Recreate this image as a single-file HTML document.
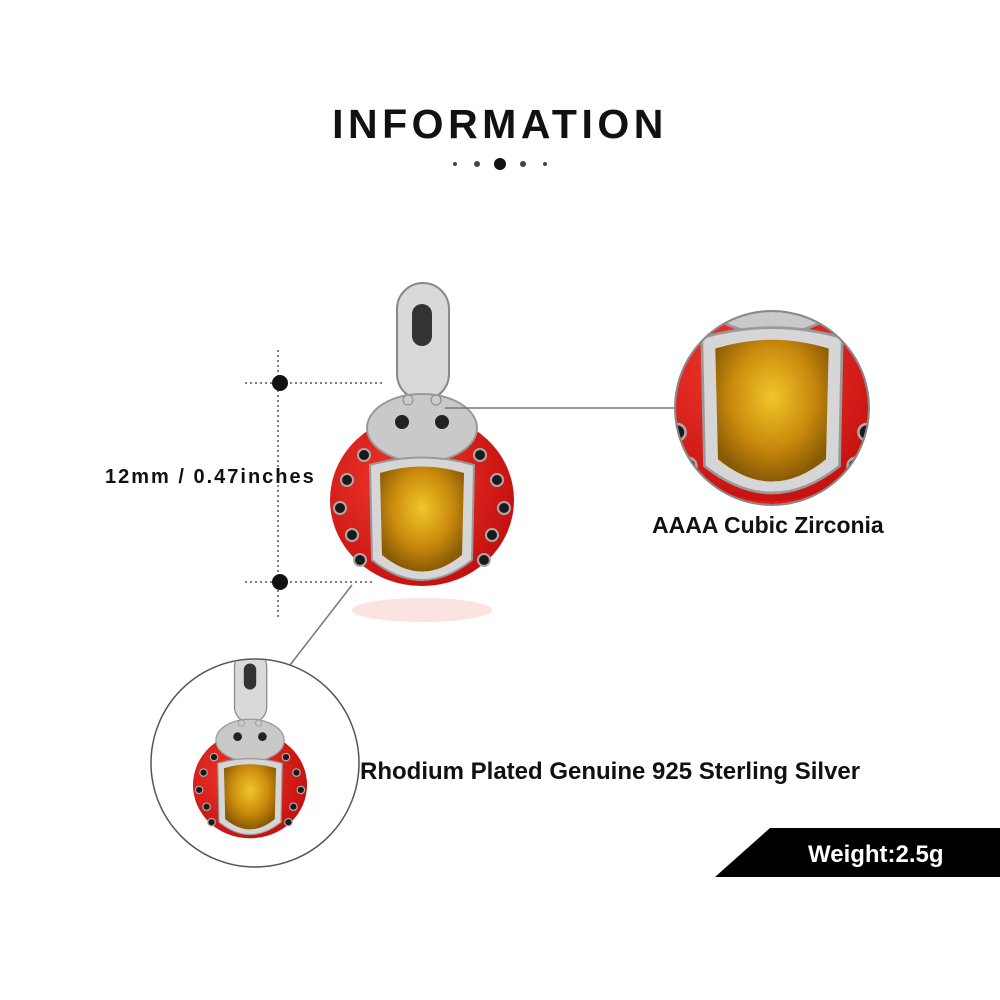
<!DOCTYPE html>
<html><head><meta charset="utf-8"><style>
html,body{margin:0;padding:0;background:#fff;}
body{width:1000px;height:1000px;position:relative;overflow:hidden;font-family:"Liberation Sans",Arial,sans-serif;}
.t{position:absolute;font-weight:bold;color:#111;white-space:nowrap;}
</style></head><body>
<svg width="1000" height="1000" style="position:absolute;left:0;top:0">
<defs>
<radialGradient id="gem" cx="50%" cy="40%" r="60%">
<stop offset="0" stop-color="#f2c62a"/><stop offset="0.6" stop-color="#c98a0c"/><stop offset="1" stop-color="#8a5a05"/></radialGradient>
<radialGradient id="red" cx="40%" cy="40%" r="70%">
<stop offset="0" stop-color="#f03a2e"/><stop offset="1" stop-color="#c20c0c"/></radialGradient>
<g id="bug">
<rect x="-25" y="-217" width="52" height="117" rx="26" fill="#d9d9d9" stroke="#888" stroke-width="2"/>
<rect x="-10" y="-196" width="20" height="42" rx="10" fill="#333"/>
<ellipse cx="0" cy="0" rx="92" ry="86" fill="url(#red)"/>
<ellipse cx="0" cy="-72" rx="55" ry="34" fill="#c9c9c9" stroke="#999" stroke-width="2"/>
<circle cx="-20" cy="-78" r="7" fill="#222"/><circle cx="20" cy="-78" r="7" fill="#222"/>
<circle cx="-14" cy="-100" r="5" fill="#ccc" stroke="#888"/><circle cx="14" cy="-100" r="5" fill="#ccc" stroke="#888"/>
<path d="M-52,-35 Q0,-50 52,-35 L50,60 Q0,100 -50,60 Z" fill="#d6d6d6" stroke="#999" stroke-width="2"/>
<path d="M-42,-27 Q0,-40 42,-27 L40,55 Q0,88 -40,55 Z" fill="url(#gem)"/>
<g fill="#1a1a1a" stroke="#aaa" stroke-width="2">
<circle cx="-75" cy="-20" r="6"/><circle cx="-82" cy="8" r="6"/><circle cx="-70" cy="35" r="6"/><circle cx="-58" cy="-45" r="6"/><circle cx="-62" cy="60" r="6"/>
<circle cx="75" cy="-20" r="6"/><circle cx="82" cy="8" r="6"/><circle cx="70" cy="35" r="6"/><circle cx="58" cy="-45" r="6"/><circle cx="62" cy="60" r="6"/>
</g>
</g>
<clipPath id="c1"><circle cx="772" cy="408" r="96"/></clipPath>
<clipPath id="c2"><circle cx="255" cy="763" r="103"/></clipPath>
</defs>
<circle cx="455" cy="164" r="2" fill="#444"/><circle cx="477" cy="164" r="3" fill="#444"/>
<circle cx="500" cy="164" r="6" fill="#111"/>
<circle cx="523" cy="164" r="3" fill="#444"/><circle cx="545" cy="164" r="2" fill="#444"/>
<line x1="278" y1="350" x2="278" y2="617" stroke="#555" stroke-width="1.5" stroke-dasharray="2,3"/>
<line x1="245" y1="383" x2="385" y2="383" stroke="#555" stroke-width="1.5" stroke-dasharray="2,3"/>
<line x1="245" y1="582" x2="372" y2="582" stroke="#555" stroke-width="1.5" stroke-dasharray="2,3"/>
<circle cx="280" cy="383" r="8" fill="#111"/><circle cx="280" cy="582" r="8" fill="#111"/>
<use href="#bug" transform="translate(422,500)"/>
<ellipse cx="422" cy="610" rx="70" ry="12" fill="#f7d0cc" opacity="0.6"/>
<line x1="445" y1="408" x2="676" y2="408" stroke="#777" stroke-width="1.5"/>
<line x1="290" y1="665" x2="352" y2="585" stroke="#777" stroke-width="1.5"/>
<g clip-path="url(#c1)"><rect x="670" y="300" width="210" height="210" fill="#e01a18"/>
<use href="#bug" transform="translate(772,385) scale(1.35)"/></g>
<circle cx="772" cy="408" r="97" fill="none" stroke="#888" stroke-width="2"/>
<g clip-path="url(#c2)"><rect x="150" y="658" width="210" height="210" fill="#fff"/>
<use href="#bug" transform="translate(250,785) scale(0.62)"/></g>
<circle cx="255" cy="763" r="104" fill="none" stroke="#555" stroke-width="1.5"/>
<polygon points="770,828 1000,828 1000,877 715,877" fill="#000"/>
</svg>
<div class="t" style="left:0;width:1000px;text-align:center;top:101px;font-size:41px;letter-spacing:4.5px;">INFORMATION</div>
<div class="t" style="left:105px;top:466px;font-size:20px;letter-spacing:2px;">12mm / 0.47inches</div>
<div class="t" style="left:652px;top:512px;font-size:23px;">AAAA Cubic Zirconia</div>
<div class="t" style="left:360px;top:758px;font-size:24px;">Rhodium Plated Genuine 925 Sterling Silver</div>
<div class="t" style="left:808px;top:841px;font-size:24px;color:#fff;">Weight:2.5g</div>
</body></html>
